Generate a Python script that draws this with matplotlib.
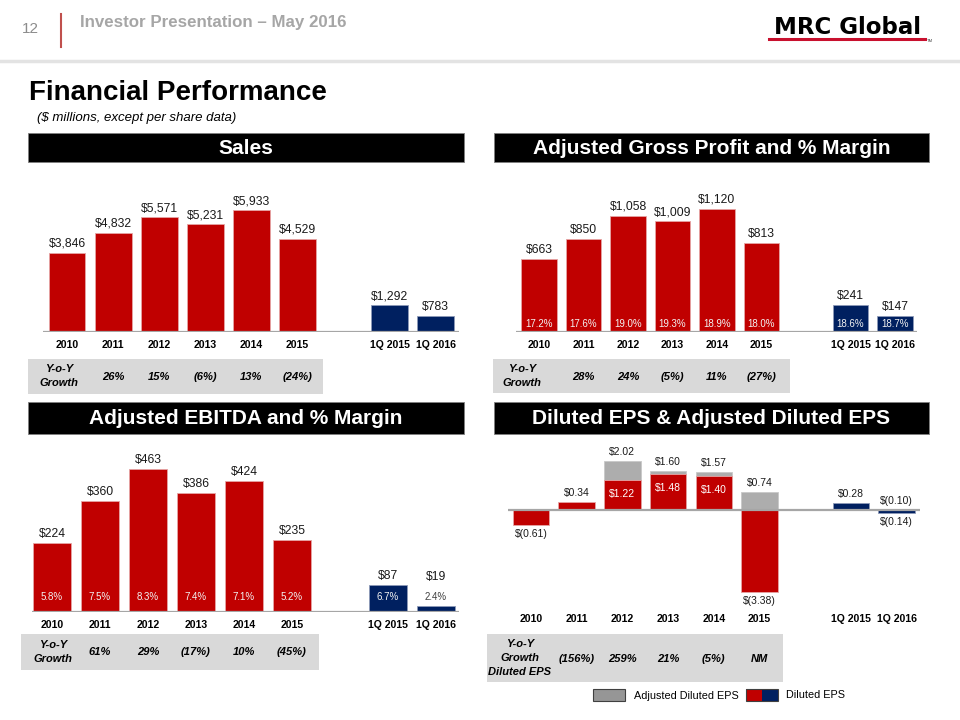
import matplotlib
matplotlib.use('Agg')
import matplotlib.pyplot as plt
from matplotlib.patches import Rectangle
from matplotlib.lines import Line2D
import numpy as np

plt.rcParams['font.family'] = ['Liberation Sans', 'DejaVu Sans']

# ---------------- data ----------------
categories = ['2010', '2011', '2012', '2013', '2014', '2015', '1Q 2015', '1Q 2016']
is_quarter = [False, False, False, False, False, False, True, True]

sales = [3846, 4832, 5571, 5231, 5933, 4529, 1292, 783]
sales_growth = ['26%', '15%', '(6%)', '13%', '(24%)']

gross_profit = [663, 850, 1058, 1009, 1120, 813, 241, 147]
gross_margin = [17.2, 17.6, 19.0, 19.3, 18.9, 18.0, 18.6, 18.7]
gp_growth = ['28%', '24%', '(5%)', '11%', '(27%)']

ebitda = [224, 360, 463, 386, 424, 235, 87, 19]
ebitda_margin = [5.8, 7.5, 8.3, 7.4, 7.1, 5.2, 6.7, 2.4]
ebitda_growth = ['61%', '29%', '(17%)', '10%', '(45%)']

eps_diluted = [-0.61, 0.34, 1.22, 1.48, 1.40, -3.38, 0.28, -0.14]
eps_adjusted = [np.nan, np.nan, 2.02, 1.60, 1.57, 0.74, np.nan, -0.10]
eps_growth = ['(156%)', '259%', '21%', '(5%)', 'NM']

# ---------------- layout helpers ----------------
W, H = 960, 720
RED = '#C00000'
NAVY = '#002060'
GRAY = '#ADADAD'
BOXGRAY = '#D9D9D9'

# category slots: annual bars, one empty slot, then quarterly bars
positions = []
slot = 0
for i, q in enumerate(is_quarter):
    if i > 0 and q and not is_quarter[i - 1]:
        slot += 1
    positions.append(slot)
    slot += 1

fig = plt.figure(figsize=(9.6, 7.2), dpi=100)


def fy(y):
    return 1 - y / H


def fig_rect(x0, y0, x1, y1, **kw):
    r = Rectangle((x0 / W, 1 - y1 / H), (x1 - x0) / W, (y1 - y0) / H,
                  transform=fig.transFigure, **kw)
    fig.add_artist(r)
    return r


def header(x0, y0, x1, y1, text):
    fig_rect(x0, y0, x1, y1, facecolor='black', edgecolor='#7F7F7F', lw=0.6, zorder=-1)
    fig.text((x0 + x1) / 2 / W, fy((y0 + y1) / 2 + 0.5), text, ha='center', va='center',
             color='white', fontsize=15, fontweight='bold')


def make_ax(left, right, top, bottom, base, x0, sp, scale):
    ax = fig.add_axes([left / W, 1 - bottom / H, (right - left) / W, (bottom - top) / H])
    ax.set_xlim((left - x0) / sp, (right - x0) / sp)
    ax.set_ylim(-(bottom - base) / scale, (base - top) / scale)
    ax.set_axis_off()
    ax.axhline(0, color='#A6A6A6', lw=1.6, zorder=4)
    return ax


def cat_labels(ax, label_y):
    for p, c in zip(positions, categories):
        ax.annotate(c, xy=(p, fy(label_y)), xycoords=('data', 'figure fraction'),
                    ha='center', va='center', fontsize=7.6, fontweight='bold')


def growth_table(ax, box, label_x, label_y, label_text, values, value_y, ls=1.6):
    x0, y0, x1, y1 = box
    fig_rect(x0, y0, x1, y1, facecolor=BOXGRAY, edgecolor='none', zorder=-1)
    fig.text(label_x / W, fy(label_y), label_text, ha='center', va='center',
             fontsize=8, fontweight='bold', style='italic', linespacing=ls)
    for p, v in zip(positions[1:6], values):
        ax.annotate(v, xy=(p, fy(value_y)), xycoords=('data', 'figure fraction'),
                    ha='center', va='center', fontsize=8, fontweight='bold', style='italic')


def value_chart(ax, values, scale, margins=None, margin_off=8, min_px=0):
    colors = [NAVY if q else RED for q in is_quarter]
    edges = ['#8E9AB8' if q else '#E6A5A5' for q in is_quarter]
    ax.bar(positions, values, width=0.8, color=colors, edgecolor=edges, lw=0.6, zorder=2)
    for p, v in zip(positions, values):
        top = max(v, min_px / scale)
        ax.annotate(f"${v:,}", xy=(p, top), xytext=(0, 3), textcoords='offset pixels',
                    ha='center', va='bottom', fontsize=8.7, color='#1A1A1A')
    if margins is not None:
        for p, v, m in zip(positions, values, margins):
            inside = v * scale > margin_off + 6
            ax.annotate(f"{m:.1f}%", xy=(p, 0), xytext=(0, margin_off),
                        textcoords='offset pixels', ha='center', va='center',
                        fontsize=7, color='#F2F2F2' if inside else '#404040', zorder=5)


# ---------------- page header ----------------
fig.text(22 / W, fy(29), '12', fontsize=11, color='#8C8C8C', ha='left', va='center')
fig.add_artist(Line2D([61 / W, 61 / W], [fy(14), fy(47)], color='#C0504D', lw=1.5,
                      transform=fig.transFigure))
fig.text(80 / W, fy(23), 'Investor Presentation \u2013 May 2016', fontsize=12.2,
         fontweight='bold', color='#A6A6A6', va='center')
fig.add_artist(Line2D([0, 1], [fy(61), fy(61)], color='#E3E3E3', lw=2.5,
                      transform=fig.transFigure))
# logo
fig.text(847 / W, fy(27), 'MRC Global', fontsize=16.5, fontweight='bold', ha='center',
         va='center', color='black', family='DejaVu Sans')
fig.add_artist(Line2D([769 / W, 925 / W], [fy(39), fy(39)], color='#C8102E', lw=2.2,
                      transform=fig.transFigure))
fig.text(927 / W, fy(41), 'TM', fontsize=3, va='center', color='#404040')

fig.text(29 / W, fy(93), 'Financial Performance', fontsize=20, fontweight='bold', va='center')
fig.text(37 / W, fy(118), '($ millions, except per share data)', fontsize=9.5,
         style='italic', va='center')

# ---------------- Sales ----------------
header(28, 133, 464, 162, 'Sales')
ax_s = make_ax(43, 459, 180, 332, 332, 67, 46.1, 0.02056)
value_chart(ax_s, sales, 0.02056)
cat_labels(ax_s, 345)
growth_table(ax_s, (28, 359, 323, 394), 59, 376, 'Y-o-Y\nGrowth', sales_growth, 377)

# ---------------- Gross Profit ----------------
header(494, 133, 929, 162, 'Adjusted Gross Profit and % Margin')
ax_g = make_ax(516, 917, 180, 332, 332, 539, 44.5, 0.110)
value_chart(ax_g, gross_profit, 0.110, margins=gross_margin, margin_off=8)
cat_labels(ax_g, 345)
growth_table(ax_g, (493, 359, 790, 393), 522, 376, 'Y-o-Y\nGrowth', gp_growth, 377)

# ---------------- EBITDA ----------------
header(28, 402, 464, 434, 'Adjusted EBITDA and % Margin')
ax_e = make_ax(32, 459, 445, 612, 612, 52, 48, 0.308)
value_chart(ax_e, ebitda, 0.308, margins=ebitda_margin, margin_off=15, min_px=26)
cat_labels(ax_e, 625)
growth_table(ax_e, (21, 634, 319, 670), 53, 652, 'Y-o-Y\nGrowth', ebitda_growth, 652)

# ---------------- EPS ----------------
header(494, 402, 929, 434, 'Diluted EPS & Adjusted Diluted EPS')
EPS_SCALE = 24.4
ax_p = make_ax(508, 920, 440, 612, 510, 531, 45.7, EPS_SCALE)
adj = np.array(eps_adjusted, dtype=float)
dil = np.array(eps_diluted, dtype=float)
pos = np.array(positions)
mask = ~np.isnan(adj)
ax_p.bar(pos[mask], adj[mask], width=0.8, color=GRAY, edgecolor='#C8C8C8', lw=0.6, zorder=1)
ax_p.bar(pos, dil, width=0.8, color=[NAVY if q else RED for q in is_quarter],
         edgecolor=['#8E9AB8' if q else '#E6A5A5' for q in is_quarter], lw=0.6, zorder=2)


def fmt_eps(v):
    return f"$({abs(v):.2f})" if v < 0 else f"${v:.2f}"


for p, d, a in zip(positions, eps_diluted, eps_adjusted):
    has_adj = not np.isnan(a)
    if has_adj:
        ax_p.annotate(fmt_eps(a), xy=(p, max(a, 0)), xytext=(0, 4), textcoords='offset pixels',
                      ha='center', va='bottom', fontsize=7.5, color='#1A1A1A', zorder=6)
    if d >= 0:
        if has_adj:
            ax_p.annotate(fmt_eps(d), xy=(p, d), xytext=(0, -14), textcoords='offset pixels',
                          ha='center', va='center', fontsize=7.5, color='white', zorder=6)
        else:
            ax_p.annotate(fmt_eps(d), xy=(p, d), xytext=(0, 4), textcoords='offset pixels',
                          ha='center', va='bottom', fontsize=7.5, color='#1A1A1A', zorder=6)
    else:
        ax_p.annotate(fmt_eps(d), xy=(p, d), xytext=(0, -4), textcoords='offset pixels',
                      ha='center', va='top', fontsize=7.5, color='#1A1A1A', zorder=6)

cat_labels(ax_p, 619)
growth_table(ax_p, (487, 634, 783, 682), 520, 658, 'Y-o-Y\nGrowth\nDiluted EPS',
             eps_growth, 659, ls=1.5)

# legend
fig_rect(593, 689, 625, 701, facecolor='#969696', edgecolor='#404040', lw=0.8, zorder=2)
fig.text(634 / W, fy(696), 'Adjusted Diluted EPS', fontsize=7.8, va='center')
fig_rect(746, 689, 762, 701, facecolor=RED, edgecolor='none', zorder=2)
fig_rect(762, 689, 778, 701, facecolor=NAVY, edgecolor='none', zorder=2)
fig_rect(746, 689, 778, 701, facecolor='none', edgecolor='#404040', lw=0.8, zorder=3)
fig.text(786 / W, fy(695), 'Diluted EPS', fontsize=7.8, va='center')

fig.savefig('out.png', dpi=100)
